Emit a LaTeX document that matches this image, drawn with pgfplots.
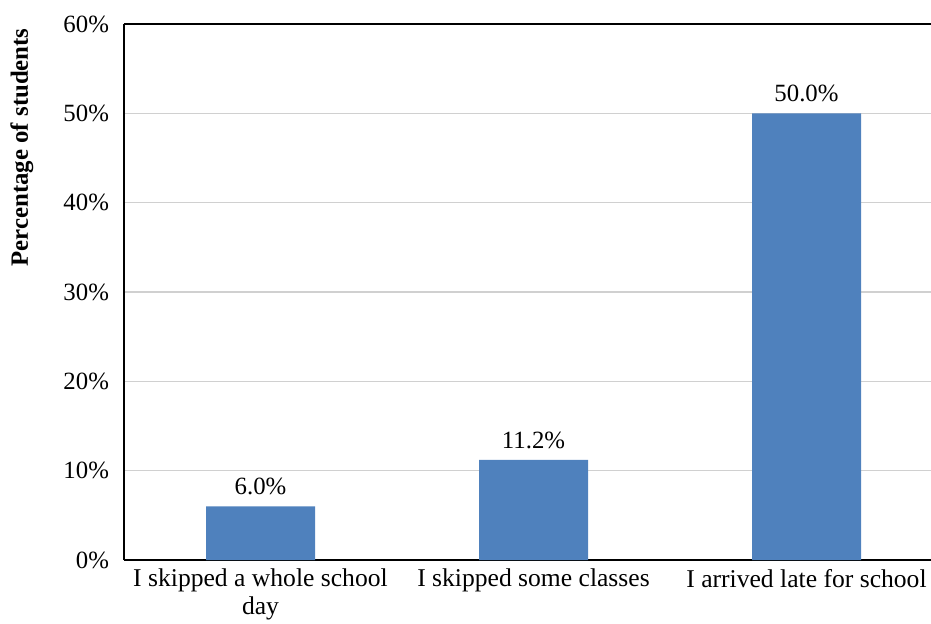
\documentclass[border=0pt]{standalone}
\usepackage{pgfplots}
\pgfplotsset{compat=1.18}
\usepackage{fontspec}
\setmainfont{Liberation Serif}
\definecolor{barblue}{HTML}{4F81BD}
\definecolor{gridgray}{HTML}{D0D0D0}
\begin{document}
\begin{tikzpicture}
\useasboundingbox (-62pt,-31.5pt) rectangle (403.5pt,280pt);
\begin{axis}[
  at={(0,0)}, anchor=south west,
  scale only axis,
  width=403.5pt, height=268pt,
  xmin=-0.5, xmax=2.456,
  ymin=0, ymax=60,
  axis x line*=bottom, axis y line*=left,
  axis line style={black, line width=1pt},
  xtick=data,
  xticklabels={{I skipped a whole school\\day}, I skipped some classes, I arrived late for school},
  xticklabel style={align=center, font=\fontsize{12.8}{14}\selectfont, yshift=-1pt},
  ytick={0,10,20,30,40,50},
  yticklabels={0\%,10\%,20\%,30\%,40\%,50\%},
  extra y ticks={60},
  extra y tick labels={60\%},
  extra y tick style={grid=major, major grid style={black, line width=1pt}},
  yticklabel style={font=\fontsize{12.4}{13}\selectfont, xshift=-4pt},
  major tick length=0pt,
  ymajorgrids, major grid style={gridgray, line width=0.75pt},
  ylabel={Percentage of students},
  ylabel style={at={(axis description cs:-0.1264,0.77)}, anchor=center, font=\bfseries\fontsize{12.4}{13}\selectfont},
  /pgf/number format/assume math mode=true,
  nodes near coords={\pgfmathprintnumber[fixed,fixed zerofill,precision=1,assume math mode=true]{\pgfplotspointmeta}\%},
  nodes near coords style={font=\fontsize{12.4}{13}\selectfont, black, yshift=2pt},
  every node near coord/.append style={anchor=south},
]
\addplot[ybar, bar width=54.5pt, fill=barblue, draw=none] coordinates {(0,6.0) (1,11.2) (2,50.0)};
\end{axis}
\end{tikzpicture}
\end{document}
